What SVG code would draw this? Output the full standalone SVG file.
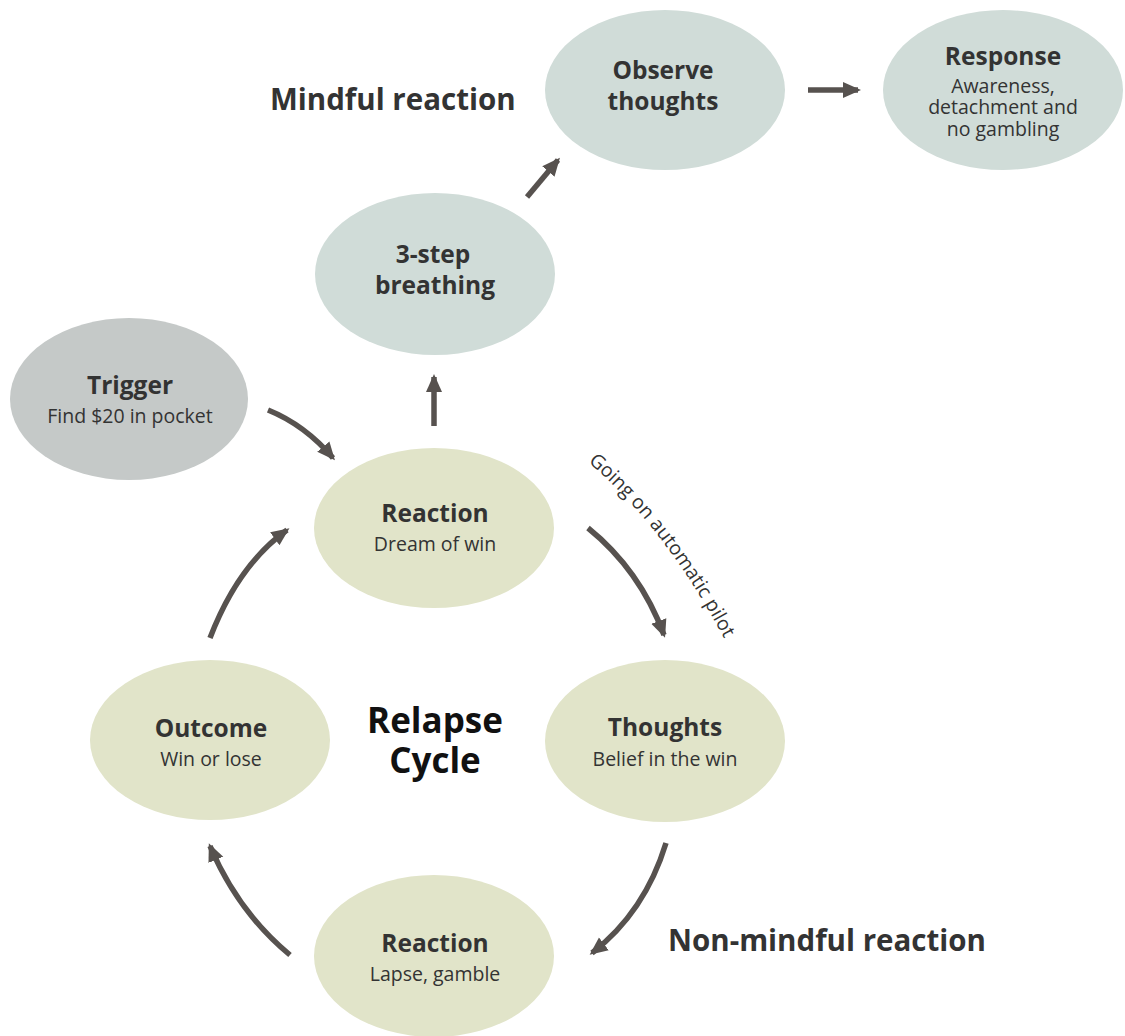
<svg xmlns="http://www.w3.org/2000/svg" width="1125" height="1036" viewBox="0 0 1125 1036">
<defs>
<style>
.blue{fill:#d0dcd8}
.grey{fill:#c5c9c8}
.green{fill:#e1e4c9}
.t{font-family:"Open Sans","Liberation Sans",sans-serif;fill:#333333;text-anchor:middle}
.b{font-weight:700;font-size:24.5px}
.r{font-size:19.5px}
.big{font-family:"Open Sans","Liberation Sans",sans-serif;font-weight:700;font-size:29.5px;fill:#333333}
.cyc{font-family:"Open Sans","Liberation Sans",sans-serif;font-weight:700;font-size:35px;fill:#111111;text-anchor:middle}
.arr{fill:none;stroke:#57524f;stroke-width:5.5;marker-end:url(#ah)}
</style>
<marker id="ah" markerUnits="userSpaceOnUse" markerWidth="18" markerHeight="18" viewBox="0 0 18 18" refX="15" refY="9" orient="auto">
<path d="M0,1 L18,9 L0,17 z" fill="#57524f"/>
</marker>
<path id="autoPath" d="M588 462 Q668 530 728 646"/>
</defs>
<rect width="1125" height="1036" fill="#ffffff"/>

<g id="connectors">
<path class="arr" d="M268 410 Q305 425 333 458"/>
<path class="arr" d="M434 426 L434 377"/>
<path class="arr" d="M527 197 L558 160"/>
<path class="arr" d="M808 90 L858 90"/>
<path class="arr" d="M588 528 Q640 570 664 635"/>
<path class="arr" d="M666 843 Q645 912 592 953"/>
<path class="arr" d="M290 955 Q238 912 210 846"/>
<path class="arr" d="M210 638 Q238 565 287 530"/>
</g>

<g id="label-mindful"><text class="big" x="270" y="110">Mindful reaction</text></g>
<g id="label-nonmindful"><text class="big" x="668" y="951">Non-mindful reaction</text></g>
<g id="label-auto"><text font-family="'Open Sans','Liberation Sans',sans-serif" font-size="19.5" fill="#333333"><textPath href="#autoPath">Going on automatic pilot</textPath></text></g>

<g id="observe">
<ellipse class="blue" cx="665" cy="90" rx="120" ry="80"/>
<text class="t b" x="663" y="79">Observe</text>
<text class="t b" x="663" y="110">thoughts</text>
</g>
<g id="response">
<ellipse class="blue" cx="1003" cy="90" rx="120" ry="80"/>
<text class="t b" x="1003" y="65">Response</text>
<text class="t r" x="1003" y="93">Awareness,</text>
<text class="t r" x="1003" y="114">detachment and</text>
<text class="t r" x="1003" y="136">no gambling</text>
</g>
<g id="breathing">
<ellipse class="blue" cx="435" cy="274" rx="120" ry="81"/>
<text class="t b" x="433" y="263">3-step</text>
<text class="t b" x="435" y="294">breathing</text>
</g>
<g id="trigger">
<ellipse class="grey" cx="129" cy="399" rx="119" ry="81"/>
<text class="t b" x="130" y="394">Trigger</text>
<text class="t r" x="130" y="423">Find $20 in pocket</text>
</g>
<g id="reaction1">
<ellipse class="green" cx="434" cy="528" rx="120" ry="80"/>
<text class="t b" x="435" y="522">Reaction</text>
<text class="t r" x="435" y="551">Dream of win</text>
</g>
<g id="outcome">
<ellipse class="green" cx="210" cy="740" rx="120" ry="80"/>
<text class="t b" x="211" y="737">Outcome</text>
<text class="t r" x="211" y="766">Win or lose</text>
</g>
<g id="thoughts">
<ellipse class="green" cx="665" cy="741" rx="120" ry="81"/>
<text class="t b" x="665" y="736">Thoughts</text>
<text class="t r" x="665" y="766">Belief in the win</text>
</g>
<g id="reaction2">
<ellipse class="green" cx="434" cy="956" rx="120" ry="81"/>
<text class="t b" x="435" y="952">Reaction</text>
<text class="t r" x="435" y="981">Lapse, gamble</text>
</g>
<g id="center-label">
<text class="cyc" x="435" y="733">Relapse</text>
<text class="cyc" x="435" y="773">Cycle</text>
</g>
</svg>
